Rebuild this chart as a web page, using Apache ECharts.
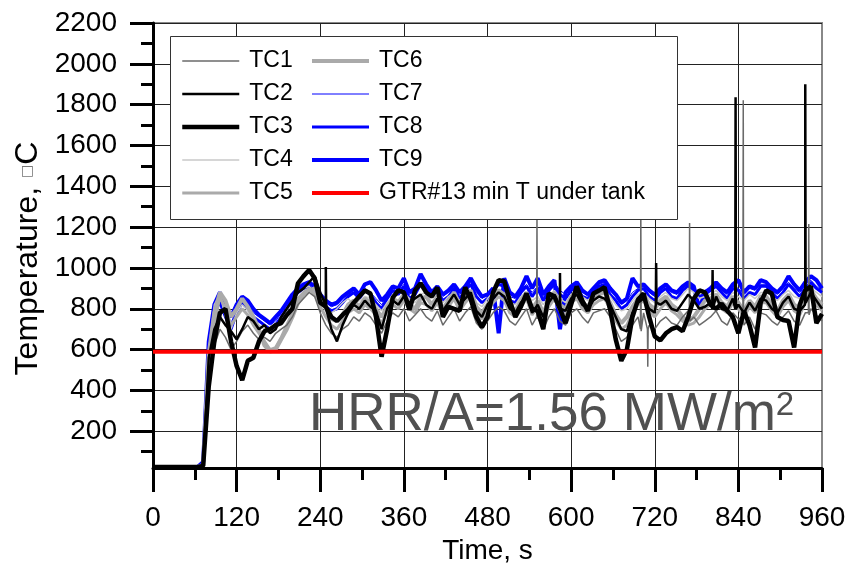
<!DOCTYPE html>
<html><head><meta charset="utf-8">
<script src="https://cdn.jsdelivr.net/npm/echarts@6/dist/echarts.min.js"></script>
<style>html,body{margin:0;padding:0;background:#fff}#c{width:861px;height:570px}</style>
</head><body><div id="c"></div>
<script>
// ---- axis ticks ----
const xMin = 0, xMax = 960, xStep = 120;
const yMin = 20, yMax = 2200;
const yTickLabels = [200,400,600,800,1000,1200,1400,1600,1800,2000,2200];
const yMinorTicks = [100,300,500,700,900,1100,1300,1500,1700,1900,2100];

// ---- sampling times (s), one value every 8 s ----
const sampleStep = 8;
const sampleTimes = [];
for (let t = 0; t <= 960; t += sampleStep) sampleTimes.push(t);

// ---- series values (deg C) ----
const tc1 = [25,25,25,25,25,25,25,25,25,30,
 480,620,700,660,600,640,690,720,680,650,
 660,640,680,700,720,760,820,850,880,860,
 780,720,680,660,700,720,760,740,780,760,
 720,680,740,780,760,800,740,770,800,760,
 740,790,720,760,800,740,780,810,730,700,
 740,780,810,790,740,720,760,800,720,760,
 700,760,800,740,720,780,800,760,730,780,
 790,800,760,700,640,660,720,760,780,720,
 700,740,760,730,720,760,790,760,720,740,
 760,790,740,720,780,750,720,760,700,780,
 770,740,720,760,790,740,720,780,800,770,
 740];
const tc2 = [25,25,25,25,25,25,25,25,25,35,
 560,700,760,720,690,650,700,760,740,700,
 720,680,700,760,800,840,880,900,930,960,
 880,810,700,640,720,780,820,800,840,810,
 790,700,800,840,820,860,830,850,870,820,
 800,850,790,830,870,820,850,880,790,760,
 820,850,880,860,800,780,830,860,780,820,
 760,830,870,810,790,850,870,820,800,840,
 860,850,820,760,700,690,780,830,850,800,
 780,820,840,800,790,830,870,840,800,810,
 830,860,800,790,850,820,780,830,790,850,
 840,800,780,830,860,800,790,850,880,840,
 800];
const tc3 = [25,25,25,25,25,25,25,25,25,30,
 420,640,780,800,640,520,450,545,560,640,
 690,700,720,730,770,800,925,960,990,950,
 830,810,760,740,770,795,830,860,890,875,
 760,565,700,855,890,880,795,890,925,880,
 860,905,760,810,800,790,905,845,760,710,
 760,880,940,935,840,760,810,875,800,790,
 700,875,860,800,730,820,910,840,790,875,
 890,905,795,650,545,600,760,845,875,760,
 665,645,680,700,710,690,760,850,890,880,
 820,800,825,790,760,680,790,720,610,830,
 890,875,760,745,740,610,820,890,910,730,
 775];
const tc4 = [25,25,25,25,25,25,25,25,25,40,
 600,820,870,760,700,780,820,790,740,720,
 700,680,700,740,790,840,880,900,910,880,
 840,800,780,800,830,850,820,840,860,850,
 820,790,830,860,840,880,850,830,870,880,
 850,870,830,860,880,840,870,890,830,810,
 850,880,890,870,830,820,860,880,840,860,
 820,860,890,850,830,870,890,860,840,870,
 880,890,860,820,790,800,840,870,880,850,
 830,860,880,850,840,870,900,880,850,860,
 870,890,860,840,880,860,840,870,850,880,
 880,860,840,870,890,860,850,880,900,880,
 860];
const tc5 = [25,25,25,25,25,25,25,25,25,30,
 520,720,860,800,720,760,800,770,720,680,
 640,600,610,660,720,780,850,880,900,870,
 810,760,720,700,740,780,800,780,820,800,
 770,730,790,820,800,840,800,780,830,820,
 790,830,770,810,850,790,830,860,780,750,
 790,830,860,840,780,760,810,850,770,810,
 750,810,850,790,770,830,850,800,780,820,
 840,850,800,740,700,720,780,820,840,790,
 760,800,830,790,770,740,720,730,760,800,
 820,850,800,780,830,800,760,810,780,830,
 830,790,760,810,840,790,770,830,860,820,
 790];
const tc6 = [25,25,25,25,25,25,25,25,25,35,
 580,780,880,840,760,800,850,810,760,700,
 620,590,600,650,700,760,830,870,890,900,
 860,800,750,740,770,820,840,810,850,830,
 800,760,810,850,830,870,820,800,850,860,
 820,860,800,840,880,820,860,890,810,780,
 820,860,890,870,810,790,840,880,800,840,
 780,840,880,820,800,860,880,830,810,850,
 870,880,830,770,730,760,810,850,870,820,
 800,840,860,820,800,760,740,760,800,840,
 850,870,830,810,860,830,790,840,810,860,
 860,820,790,840,870,820,800,860,890,850,
 820];
const tc7 = [25,25,25,25,25,25,25,25,25,45,
 620,800,840,780,730,800,850,820,780,760,
 740,720,740,780,820,860,890,910,920,900,
 860,830,810,820,850,870,890,860,900,880,
 850,820,860,900,880,920,870,890,930,910,
 880,900,860,880,910,870,900,930,880,850,
 870,900,930,920,860,850,890,920,880,910,
 860,900,930,890,870,900,920,880,870,900,
 920,930,890,860,820,840,880,900,910,880,
 860,890,910,880,870,900,920,900,880,890,
 900,920,890,870,910,900,870,900,890,920,
 920,890,870,900,930,900,880,920,940,910,
 890];
const tc8 = [25,25,25,25,25,25,25,25,25,40,
 580,790,830,760,700,780,830,800,760,740,
 720,700,720,760,800,850,880,900,910,880,
 840,810,790,800,830,860,880,850,890,870,
 830,800,850,890,870,910,850,870,920,900,
 860,890,840,860,900,850,890,920,860,830,
 850,890,920,910,840,830,880,910,860,900,
 840,890,920,870,850,890,910,860,850,890,
 910,920,870,840,800,820,860,890,900,860,
 840,880,900,860,850,890,910,890,860,870,
 890,910,880,850,900,890,850,880,870,910,
 910,880,850,880,920,890,860,900,930,900,
 880];
const tc9 = [25,25,25,25,25,25,25,25,25,50,
 640,820,880,800,760,820,860,840,800,770,
 750,730,760,790,830,870,900,920,930,910,
 870,840,820,830,860,880,900,870,920,930,
 890,840,870,910,900,950,880,900,970,920,
 880,910,870,890,920,880,910,950,900,860,
 870,900,680,950,880,860,900,960,900,950,
 870,910,940,700,880,910,930,890,870,900,
 930,940,900,870,830,850,950,910,920,890,
 870,900,920,890,880,910,930,910,800,880,
 900,930,900,880,920,940,880,910,900,940,
 930,900,880,910,960,920,890,930,960,940,
 900];
// short spikes [time s, value]
const tc1Spikes = [[550.5,760],[551,1260],[551.5,750],[699.5,700],[700,1290],[700.5,690],
 [709.5,700],[710,516],[710.5,700],[769.5,760],[770,1220],[770.5,740],
 [846.5,760],[847,1822],[847.5,740],[940.5,780],[941,1215],[941.5,770]];
const tc2Spikes = [[247.5,820],[248,1005],[248.5,800],[583.5,800],[584,975],[584.5,800],
 [721.5,820],[722,1024],[722.5,830],[802.5,800],[803,990],[803.5,800],
 [835.5,800],[836,1836],[836.5,800],[935.5,820],[936,1900],[936.5,830]];
// reference line
const gtrTimes = [0, 960];
const gtrValues = [590, 590];

const legendCol1 = ['TC1','TC2','TC3','TC4','TC5'];
const legendCol2 = ['TC6','TC7','TC8','TC9','GTR#13 min T under tank'];

function build(vals, spikes) {
  const d = sampleTimes.map((t, i) => [t, vals[i]]);
  if (spikes) spikes.forEach(p => d.push(p));
  d.sort((a, b) => a[0] - b[0]);
  return d;
}
function line(name, data, color, width) {
  return { name, type: 'line', data, symbol: 'none', showSymbol: false, silent: true,
    lineStyle: { color, width }, itemStyle: { color }, emphasis: { disabled: true },
    animation: false };
}

const FONT = "'Liberation Sans', Arial, sans-serif";
const chart = echarts.init(document.getElementById('c'), null, { renderer: 'canvas' });
const legendBase = {
  orient: 'vertical', top: 49, itemWidth: 57, itemHeight: 14, itemGap: 9, padding: 0,
  selectedMode: false, z: 10,
  itemStyle: { opacity: 0, borderWidth: 0 },
  lineStyle: { width: 'inherit' },
  textStyle: { fontSize: 23, fontFamily: FONT, color: '#000', lineHeight: 24, padding: [0,0,0,5] }
};
chart.setOption({
  animation: false,
  backgroundColor: '#fff',
  grid: { left: 153, right: 39, top: 23, bottom: 102, show: true, borderColor: '#888', borderWidth: 2,
    backgroundColor: 'transparent', outerBoundsMode: 'none' },
  legend: [
    Object.assign({}, legendBase, { left: 180, data: legendCol1 }),
    Object.assign({}, legendBase, { left: 310, data: legendCol2 })
  ],
  graphic: [
    { type: 'rect', left: 170, top: 36, z: 5, shape: { width: 507, height: 183 },
      style: { fill: '#fff', stroke: '#333', lineWidth: 1 } },
    { type: 'text', left: 309, top: 389, z: 6,
      style: { text: 'HRR/A=1.56 MW/m{s|2}', font: "53px 'Liberation Sans', Arial, sans-serif", fill: '#505050',
        rich: { s: { fontSize: 33, fontFamily: FONT, fill: '#505050', verticalAlign: 'top' } } } }
  ],
  xAxis: {
    type: 'value', min: xMin, max: xMax, interval: xStep,
    name: 'Time, s', nameLocation: 'middle', nameGap: 67,
    nameTextStyle: { fontSize: 28, fontFamily: FONT, color: '#000' },
    axisLine: { show: true, onZero: false, lineStyle: { color: '#000', width: 3 } },
    axisTick: { show: true, length: 24, lineStyle: { color: '#000', width: 3 } },
    minorTick: { show: true, splitNumber: 2, length: 12, lineStyle: { color: '#000', width: 3 } },
    axisLabel: { fontSize: 28, fontFamily: FONT, color: '#000', margin: 36 },
    splitLine: { show: true, showMaxLine: false, lineStyle: { color: '#222', width: 1 } }
  },
  yAxis: [{
    type: 'value', min: yMin, max: yMax, position: 'left',
    name: 'Temperature, {b|□}C', nameLocation: 'middle', nameGap: 104,
    nameTextStyle: { fontSize: 32, fontFamily: FONT, color: '#000', padding: [0, 26, 0, 0],
      rich: { b: { fontSize: 14, fontFamily: "'DejaVu Sans', sans-serif", color: '#777' } } },
    axisLine: { show: true, lineStyle: { color: '#000', width: 3 } },
    axisTick: { show: true, customValues: yTickLabels, length: 23, lineStyle: { color: '#000', width: 3 } },
    axisLabel: { customValues: yTickLabels, formatter: v => String(v),
      fontSize: 28, fontFamily: FONT, color: '#000', margin: 36 },
    splitLine: { show: true, lineStyle: { color: '#222', width: 1 } }
  }, {
    type: 'value', min: yMin, max: yMax, position: 'left',
    axisLine: { show: false }, axisLabel: { show: false }, splitLine: { show: false },
    axisTick: { show: true, customValues: yMinorTicks, length: 12, lineStyle: { color: '#000', width: 3 } }
  }],
  series: [
    line('TC7', build(tc7), '#0000ff', 1),
    line('TC8', build(tc8), '#0000ff', 3),
    line('TC9', build(tc9), '#0000ff', 4),
    line('TC4', build(tc4), '#c8c8c8', 1.5),
    line('TC5', build(tc5), '#aaaaaa', 3),
    line('TC6', build(tc6), '#aaaaaa', 4),
    line('TC1', build(tc1, tc1Spikes), '#6a6a6a', 1.5),
    line('TC2', build(tc2, tc2Spikes), '#000000', 2.5),
    line('TC3', build(tc3), '#000000', 4.5),
    line('GTR#13 min T under tank', gtrTimes.map((t, i) => [t, gtrValues[i]]), '#ff0000', 4)
  ]
});
</script></body></html>
